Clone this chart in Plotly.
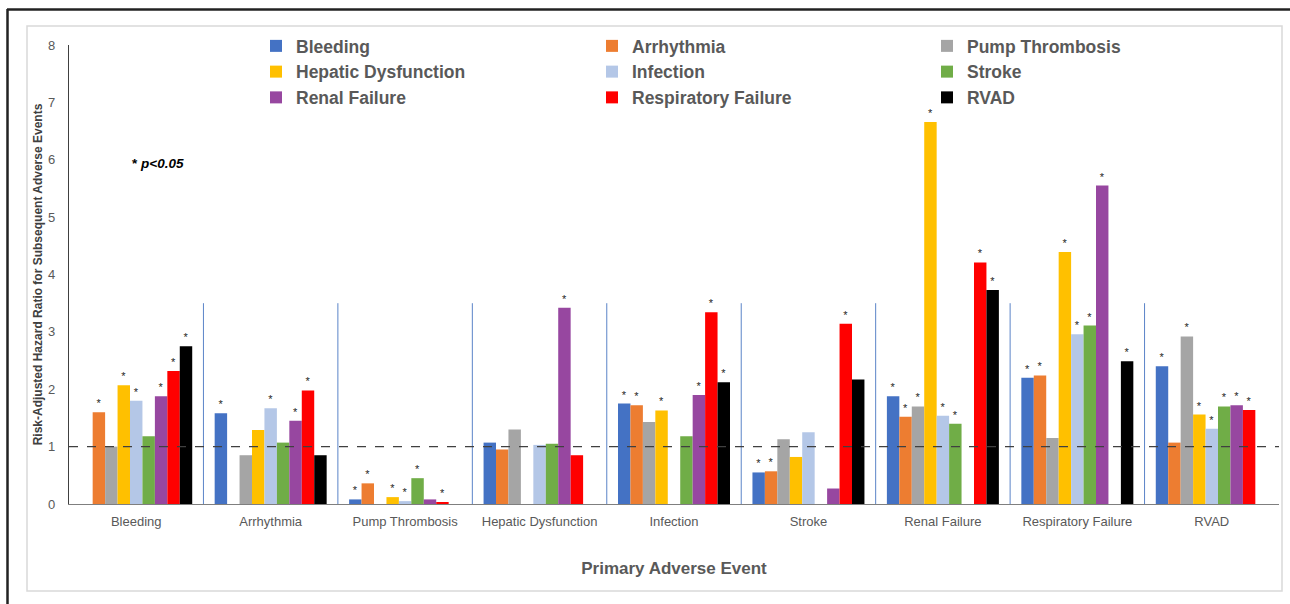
import plotly.graph_objects as go

# Primary adverse event categories (x axis)
categories = ["Bleeding", "Arrhythmia", "Pump Thrombosis", "Hepatic Dysfunction",
              "Infection", "Stroke", "Renal Failure", "Respiratory Failure", "RVAD"]

# Risk-adjusted hazard ratios for each subsequent event, per primary event
bleeding = [None, 1.58, 0.08, 1.07, 1.75, 0.55, 1.88, 2.20, 2.40]
arrhythmia = [1.60, None, 0.36, 0.95, 1.72, 0.57, 1.52, 2.24, 1.07]
pump_thrombosis = [1.00, 0.85, None, 1.30, 1.43, 1.13, 1.70, 1.15, 2.92]
hepatic_dysfunction = [2.07, 1.29, 0.12, None, 1.63, 0.82, 6.66, 4.39, 1.56]
infection = [1.80, 1.67, 0.05, 1.03, None, 1.25, 1.54, 2.96, 1.31]
stroke = [1.18, 1.07, 0.45, 1.05, 1.18, None, 1.40, 3.11, 1.70]
renal_failure = [1.88, 1.45, 0.08, 3.42, 1.90, 0.27, None, 5.55, 1.72]
respiratory_failure = [2.32, 1.98, 0.03, 0.85, 3.34, 3.14, 4.21, None, 1.64]
rvad = [2.75, 0.85, None, None, 2.12, 2.17, 3.73, 2.49, None]

# Significance flags (p<0.05)
sig_bleeding = [0, 1, 1, 0, 1, 1, 1, 1, 1]
sig_arrhythmia = [1, 0, 1, 0, 1, 1, 1, 1, 0]
sig_pump_thrombosis = [0, 0, 0, 0, 0, 0, 1, 0, 1]
sig_hepatic_dysfunction = [1, 0, 1, 0, 1, 0, 1, 1, 1]
sig_infection = [1, 1, 1, 0, 0, 0, 1, 1, 1]
sig_stroke = [0, 0, 1, 0, 0, 0, 1, 1, 1]
sig_renal_failure = [1, 1, 0, 1, 1, 0, 0, 1, 1]
sig_respiratory_failure = [1, 1, 1, 0, 1, 1, 1, 0, 1]
sig_rvad = [1, 0, 0, 0, 1, 0, 1, 1, 0]

series = [
    ("Bleeding", bleeding, sig_bleeding, "#4472C4", "legend"),
    ("Arrhythmia", arrhythmia, sig_arrhythmia, "#ED7D31", "legend2"),
    ("Pump Thrombosis", pump_thrombosis, sig_pump_thrombosis, "#A5A5A5", "legend3"),
    ("Hepatic Dysfunction", hepatic_dysfunction, sig_hepatic_dysfunction, "#FFC000", "legend"),
    ("Infection", infection, sig_infection, "#B4C7E7", "legend2"),
    ("Stroke", stroke, sig_stroke, "#70AD47", "legend3"),
    ("Renal Failure", renal_failure, sig_renal_failure, "#9747A0", "legend"),
    ("Respiratory Failure", respiratory_failure, sig_respiratory_failure, "#FF0000", "legend2"),
    ("RVAD", rvad, sig_rvad, "#000000", "legend3"),
]

W, H = 1290, 604
ML, MR, MT, MB = 69, 11, 45, 100
PW, PH = W - ML - MR, H - MT - MB


def px_x(px):
    return (px - ML) / PW


def px_y(py):
    return (H - MB - py) / PH


FONT = "Liberation Sans, Arial, sans-serif"
GRAY = "#595959"
STAR = dict(size=11, color="#262626", family=FONT)

fig = go.Figure()
for name, vals, sig, color, leg in series:
    fig.add_trace(go.Bar(
        name=name, x=categories, y=vals, marker=dict(color=color, line=dict(width=0)),
        text=["*" if s else "" for s in sig], textposition="outside",
        textfont=STAR, outsidetextfont=STAR,
        cliponaxis=False, legend=leg, hoverinfo="x+y+name",
    ))

shapes = []
# separators between primary event groups
for k in range(len(categories) - 1):
    shapes.append(dict(type="line", xref="x", yref="y", x0=k + 0.5, x1=k + 0.5, y0=0, y1=3.5,
                       line=dict(color="#5B84C8", width=1)))
# reference line at HR = 1
shapes.append(dict(type="line", xref="paper", yref="y", x0=0, x1=1, y0=1, y1=1,
                   line=dict(color="#404040", width=1.2, dash="dash")))
# inner chart frame
shapes.append(dict(type="rect", xref="paper", yref="paper",
                   x0=px_x(27), x1=px_x(1282), y0=px_y(591), y1=px_y(26),
                   line=dict(color="#D9D9D9", width=1.5), layer="below"))
# outer page rules
shapes.append(dict(type="line", xref="paper", yref="paper",
                   x0=px_x(7), x1=px_x(1290), y0=px_y(9.5), y1=px_y(9.5),
                   line=dict(color="#222222", width=2.5)))
shapes.append(dict(type="line", xref="paper", yref="paper",
                   x0=px_x(7.5), x1=px_x(7.5), y0=px_y(9), y1=px_y(604),
                   line=dict(color="#222222", width=2.5)))

legend_style = dict(orientation="v", xanchor="left", yanchor="top",
                    font=dict(family=FONT, size=17.5, color=GRAY, weight="bold"),
                    bgcolor="rgba(0,0,0,0)", borderwidth=0, tracegroupgap=0,
                    itemclick=False, itemdoubleclick=False)

fig.update_layout(
    width=W, height=H,
    margin=dict(l=ML, r=MR, t=MT, b=MB),
    paper_bgcolor="white", plot_bgcolor="white",
    barmode="group", bargap=0.167, bargroupgap=0,
    font=dict(family=FONT, color=GRAY),
    showlegend=True,
    legend=dict(x=px_x(256), y=px_y(28), **legend_style),
    legend2=dict(x=px_x(592), y=px_y(28), **legend_style),
    legend3=dict(x=px_x(927), y=px_y(28), **legend_style),
    shapes=shapes,
    annotations=[dict(xref="paper", yref="paper", x=px_x(130), y=px_y(163),
                      xanchor="left", yanchor="middle", showarrow=False,
                      text="<b>* <i>p<0.05</i></b>",
                      font=dict(family=FONT, size=13.5, color="#000000"))],
    xaxis=dict(
        type="category", range=[-0.5, len(categories) - 0.5],
        showline=True, linecolor="#7F7F7F", linewidth=1.2,
        showgrid=False, zeroline=False,
        ticks="outside", ticklen=5, tickcolor="rgba(0,0,0,0)",
        tickfont=dict(family=FONT, size=13, color=GRAY),
        title=dict(text="<b>Primary Adverse Event</b>", standoff=34,
                   font=dict(family=FONT, size=17, color=GRAY)),
    ),
    yaxis=dict(
        range=[0, 8], dtick=1, tick0=0,
        showline=True, linecolor="#404040", linewidth=1.2,
        showgrid=False, zeroline=False,
        ticks="outside", ticklen=10, tickcolor="rgba(0,0,0,0)",
        tickfont=dict(family=FONT, size=13, color=GRAY),
        title=dict(text="<b>Risk-Adjusted Hazard Ratio for Subsequent Adverse Events</b>",
                   standoff=2, font=dict(family=FONT, size=12, color="#404040")),
    ),
)

fig.write_html("out.html")
